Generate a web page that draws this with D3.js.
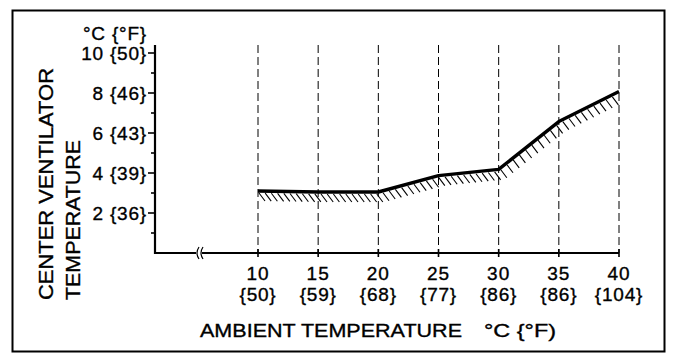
<!DOCTYPE html>
<html><head><meta charset="utf-8">
<script src="https://cdn.jsdelivr.net/npm/d3@7"></script>
<style>body{margin:0;background:#fff}svg{display:block}text{font-family:"Liberation Sans",Arial,sans-serif;fill:#000;stroke:#000;stroke-width:0.35px}</style>
</head><body><svg id="c" width="688" height="364"></svg>
<script>
const ambientC = [10, 15, 20, 25, 30, 35, 40];
const ambientF = ["{50}", "{59}", "{68}", "{77}", "{86}", "{86}", "{104}"];
const ventTemp = [3.1, 3.05, 3.05, 3.87, 4.18, 6.57, 8.07];
const yTicksC = [2, 4, 6, 8, 10];
const yTicksF = ["{36}", "{39}", "{43}", "{46}", "{50}"];

const svg = d3.select("#c");
const x = d3.scaleLinear().domain([10, 40]).range([258, 619]);
const y = d3.scaleLinear().domain([0, 10]).range([253, 53]);
const x0 = 155, yTop = 45;

// frame
svg.append("rect").attr("x", 12.5).attr("y", 10.5).attr("width", 652).attr("height", 341)
  .attr("fill", "none").attr("stroke", "#000").attr("stroke-width", 2);

// vertical dashed gridlines
svg.selectAll(".vg").data(ambientC).join("line")
  .attr("x1", d => x(d)).attr("x2", d => x(d)).attr("y1", yTop).attr("y2", y(0))
  .attr("stroke", "#000").attr("stroke-width", 1).attr("stroke-dasharray", "8,4");

// axes
svg.append("line").attr("x1", x0).attr("x2", x0).attr("y1", yTop).attr("y2", y(0) + 1)
  .attr("stroke", "#000").attr("stroke-width", 2.2);
svg.append("line").attr("x1", x0).attr("x2", x(40)).attr("y1", y(0)).attr("y2", y(0))
  .attr("stroke", "#000").attr("stroke-width", 2.2);

// break symbol on x axis
const bx = 198;
svg.append("rect").attr("x", bx - 2).attr("y", y(0) - 3).attr("width", 6).attr("height", 6).attr("fill", "#fff");
[0, 4].forEach(o => {
  svg.append("path")
    .attr("d", `M${bx + o + 1},${y(0) - 6} Q${bx + o - 3},${y(0)} ${bx + o + 1},${y(0) + 6}`)
    .attr("fill", "none").attr("stroke", "#000").attr("stroke-width", 1.2);
});

// y ticks
d3.range(1, 11).forEach(v => {
  const major = v % 2 === 0;
  svg.append("line").attr("x1", major ? x0 - 7 : x0 - 4).attr("x2", x0)
    .attr("y1", y(v)).attr("y2", y(v)).attr("stroke", "#000").attr("stroke-width", 1.6);
});
svg.selectAll(".yl").data(yTicksC).join("text")
  .attr("x", x0 - 8).attr("y", d => y(d)).attr("dy", "0.35em").attr("text-anchor", "end")
  .attr("font-size", 19).attr("letter-spacing", 0.8).text((d, i) => d + " " + yTicksF[i]);
svg.append("text").attr("x", x0 - 8).attr("y", 40).attr("text-anchor", "end")
  .attr("font-size", 19).attr("letter-spacing", 0.8).text("°C {°F}");

// x ticks
svg.selectAll(".xt").data(ambientC).join("line")
  .attr("x1", d => x(d)).attr("x2", d => x(d)).attr("y1", y(0) - 4).attr("y2", y(0) + 4)
  .attr("stroke", "#000").attr("stroke-width", 1.6);
svg.selectAll(".xl").data(ambientC).join("text")
  .attr("x", d => x(d)).attr("y", 280).attr("text-anchor", "middle").attr("font-size", 19)
  .attr("letter-spacing", 1).text(d => d);
svg.selectAll(".xf").data(ambientF).join("text")
  .attr("x", (d, i) => x(ambientC[i])).attr("y", 301).attr("text-anchor", "middle").attr("font-size", 19)
  .attr("letter-spacing", 0.8).text(d => d);

svg.append("text").attr("x", 200).attr("y", 337).attr("font-size", 19)
  .attr("textLength", 262).attr("lengthAdjust", "spacingAndGlyphs").text("AMBIENT TEMPERATURE");
svg.append("text").attr("x", 484).attr("y", 337).attr("font-size", 19)
  .attr("textLength", 72).attr("lengthAdjust", "spacingAndGlyphs").text("°C {°F)");

// y title
const yt = svg.append("g").attr("transform", "translate(0,300) rotate(-90)");
yt.append("text").attr("x", 0).attr("y", 53).attr("font-size", 21)
  .attr("textLength", 232).attr("lengthAdjust", "spacingAndGlyphs").text("CENTER VENTILATOR");
yt.append("text").attr("x", 0).attr("y", 80).attr("font-size", 21)
  .attr("textLength", 160).attr("lengthAdjust", "spacingAndGlyphs").text("TEMPERATURE");

// hatching below the line
const pts = ambientC.map((d, i) => [x(d), y(ventTemp[i])]);
function lineY(px) {
  for (let i = 0; i < pts.length - 1; i++) {
    if (px >= pts[i][0] && px <= pts[i + 1][0]) {
      const t = (px - pts[i][0]) / (pts[i + 1][0] - pts[i][0]);
      return pts[i][1] + t * (pts[i + 1][1] - pts[i][1]);
    }
  }
  return pts[pts.length - 1][1];
}
const hx = d3.range(x(10) + 1, x(40) - 3, 6.2);
svg.selectAll(".h").data(hx).join("line")
  .attr("x1", d => d).attr("y1", d => lineY(d) + 2)
  .attr("x2", d => Math.min(d + 6, x(40))).attr("y2", d => lineY(d) + 10)
  .attr("stroke", "#000").attr("stroke-width", 1.1);

// data line
svg.append("path").datum(ventTemp)
  .attr("d", d3.line().x((d, i) => x(ambientC[i])).y(d => y(d)))
  .attr("fill", "none").attr("stroke", "#000").attr("stroke-width", 3.4).attr("stroke-linejoin", "round");
</script></body></html>
